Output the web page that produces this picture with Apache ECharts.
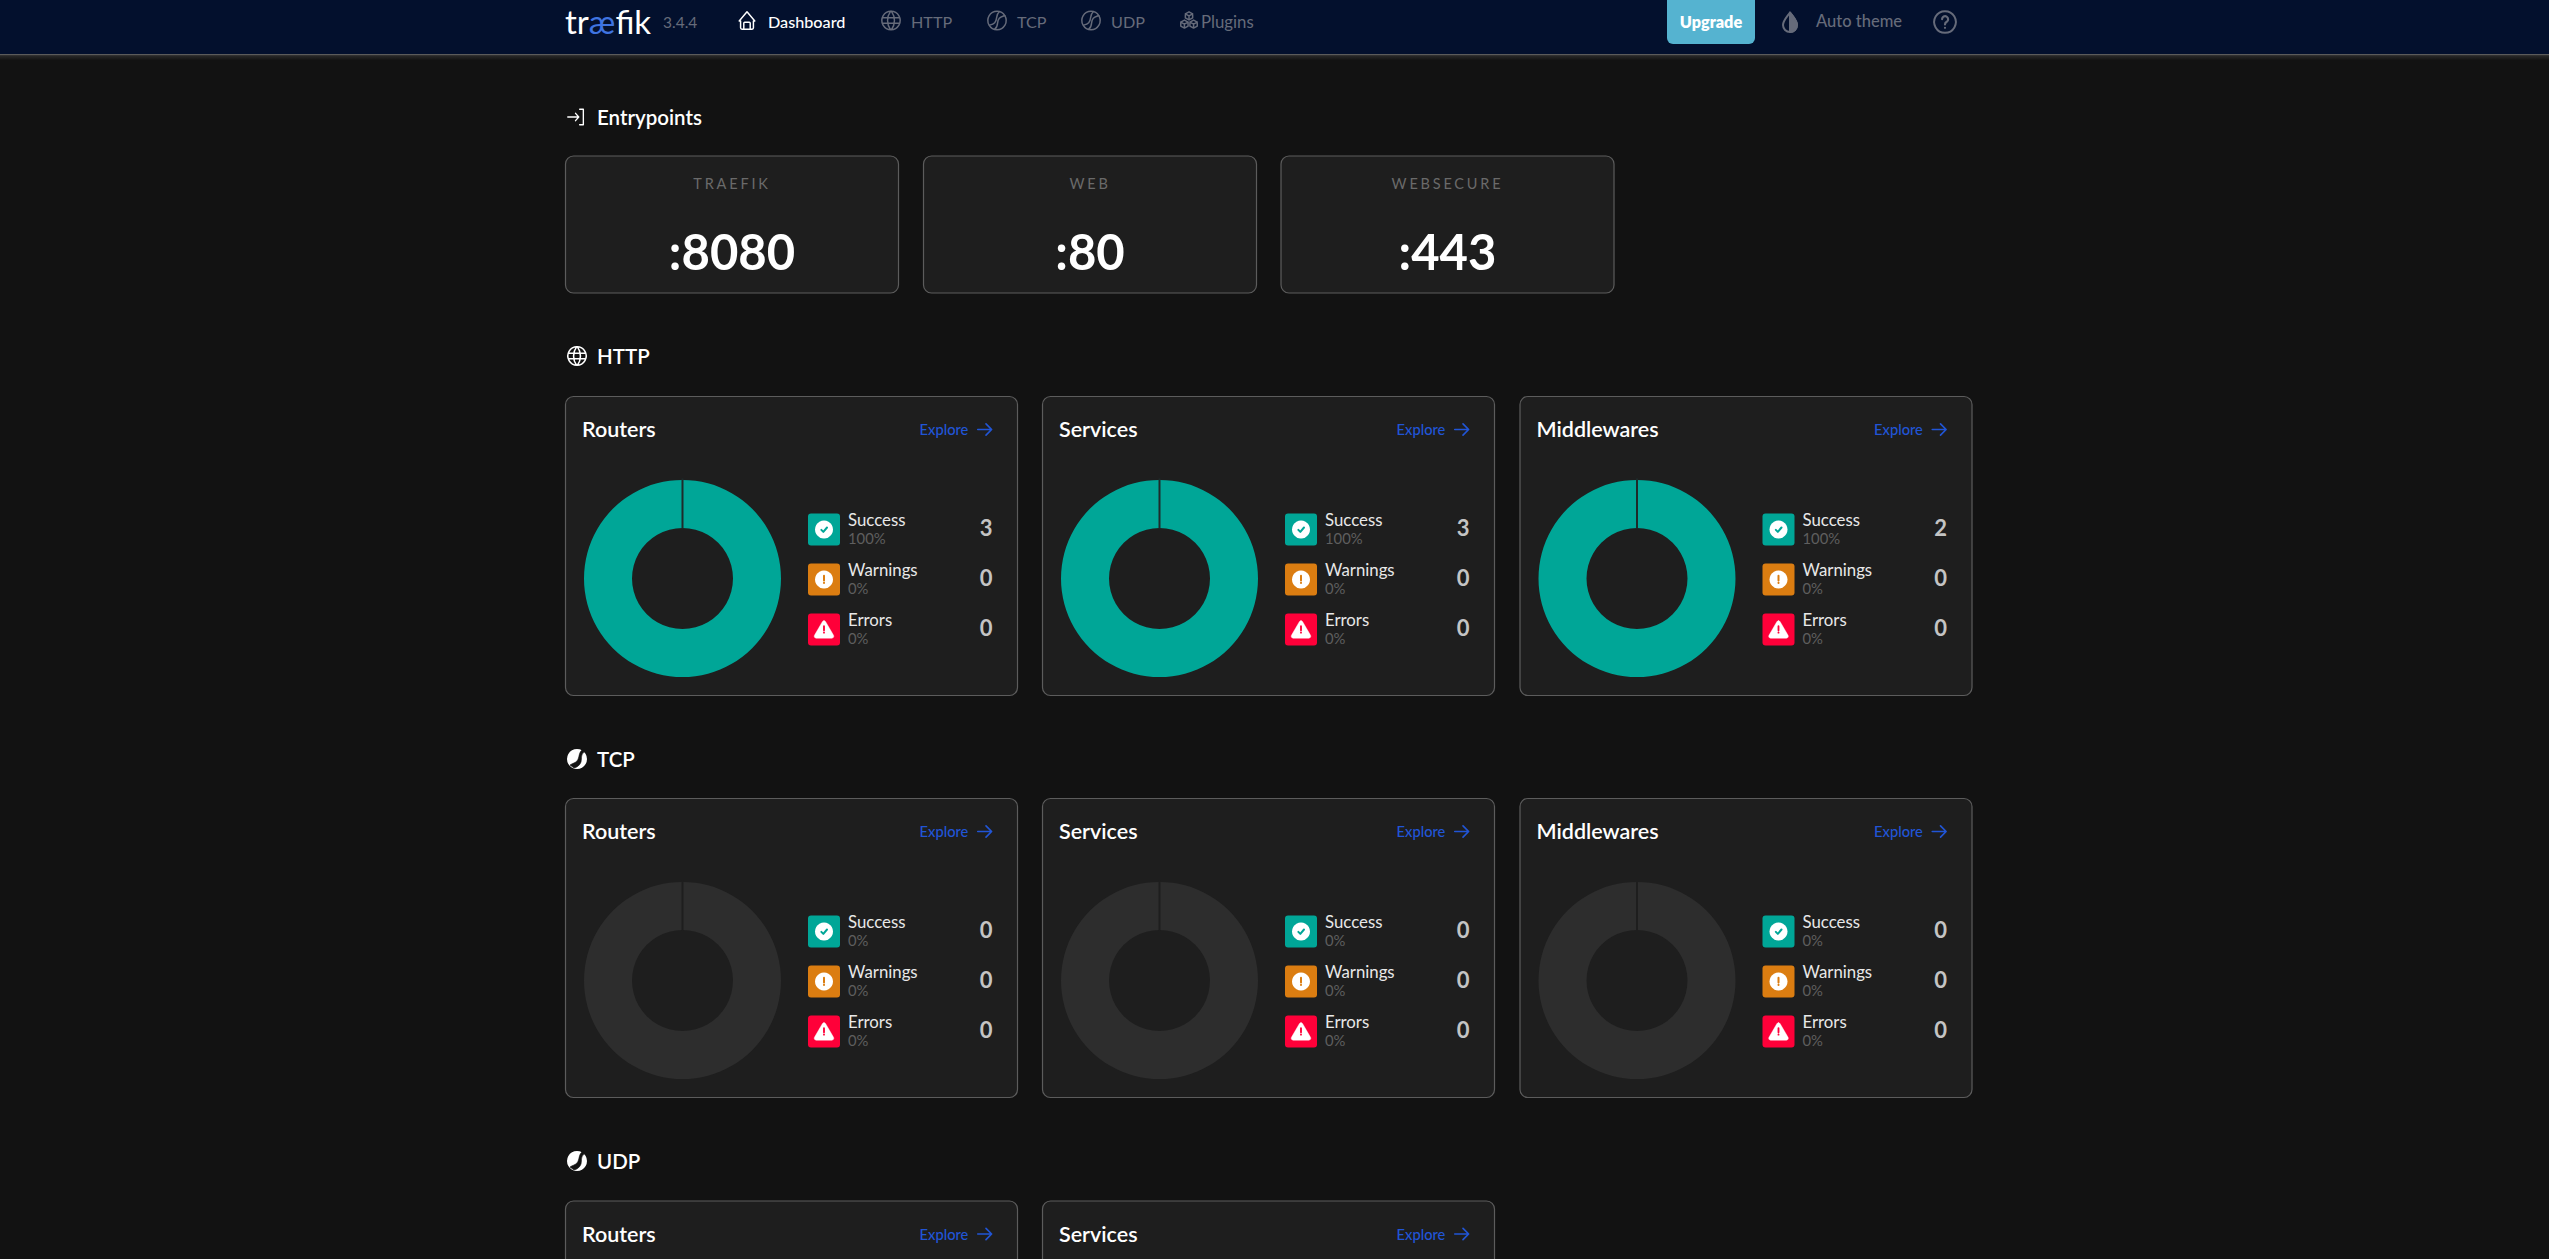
<!DOCTYPE html>
<html><head><meta charset="utf-8">
<style>html,body{margin:0;padding:0;background:#121212;overflow:hidden}#c{width:2549px;height:1259px}</style>
<script src="https://cdn.jsdelivr.net/npm/echarts@6/dist/echarts.min.js"></script>
</head><body><div id="c"></div>
<script>
// ---- data ----
const navItems = ['Dashboard','HTTP','TCP','UDP','Plugins'];
const versionLabel = '3.4.4';
const entrypointNames = ['TRAEFIK','WEB','WEBSECURE'];
const entrypointPorts = [':8080',':80',':443'];
const statusNames = ['Success','Warnings','Errors'];
const cardNames = ['Routers','Services','Middlewares'];
const httpRouters = [3,0,0];
const httpServices = [3,0,0];
const httpMiddlewares = [2,0,0];
const tcpRouters = [0,0,0];
const tcpServices = [0,0,0];
const tcpMiddlewares = [0,0,0];

// ---- style / layout ----
const F = 'Lato, "Noto Sans", sans-serif';
const C = {bg:'#121212',card:'#1e1e1e',border:'#5c5c5c',nav:'#03102d',muted:'#666b7a',teal:'#00a697',orange:'#db7d11',red:'#ff0039',blue:'#2155d6',empty:'#2d2d2d'};
const statusColors = [C.teal,C.orange,C.red];
const colX = [565.5,1042.5,1520];
const g = [], series = [];
const spaced = [];
const shapeNames = new Map();

function shapeFor(path){
  if(!shapeNames.has(path)){
    const n='iconShape'+shapeNames.size;
    echarts.graphic.registerShape(n,echarts.graphic.extendPath(path,{}));
    shapeNames.set(path,n);
  }
  return shapeNames.get(path);
}
function text(t,x,y,size,weight,fill,align){
  g.push({type:'text',z:5,silent:true,style:{text:t,x,y,fill,font:`${weight} ${size}px ${F}`,textAlign:align||'left',textVerticalAlign:'middle'}});
}
function rrect(x,y,w,h,r,fill,stroke){
  g.push({type:'rect',z:1,silent:true,shape:{x,y,width:w,height:h,r},style:{fill,stroke:stroke||null,lineWidth:stroke?1.2:0}});
}
function icon(path,x,y,size,o){
  const s=size/24;
  g.push({type:shapeFor(path),z:6,silent:true,x,y,scaleX:s,scaleY:s,
    style:Object.assign({fill:'none',stroke:'#fff',lineWidth:1.6,lineCap:'round',lineJoin:'round'},o||{})});
}
function disc(cx,cy,r,fill,stroke,lw){
  g.push({type:'circle',z:6,silent:true,shape:{cx,cy,r},style:{fill:fill||'none',stroke:stroke||null,lineWidth:lw||0}});
}

const P = {
  home:'M5 12.5H3.500L12 2.500l8.500 10H19M5 12.500v7.500a1.500 1.500 0 0 0 1.500 1.500h11a1.500 1.500 0 0 0 1.500-1.500v-7.500M8.500 21.500v-6.500a1 1 0 0 1 1-1h5a1 1 0 0 1 1 1v6.500',
  globe:'M12 2a10 10 0 1 0 0.01 0ZM2.6 9h18.8M2.6 15h18.8M11.5 2a17 17 0 0 0 0 20M12.5 2a17 17 0 0 1 0 20',
  ring:'M12 2a10 10 0 1 0 0.01 0Z',
  swirl:'M14.500 2.500C10 6 13 11 9.500 14.500C8 16 6 16.500 4 17M20.500 6.500C18 7.500 16 8 14.500 9.500C11 13 14.500 18 9.500 21.500',
  cubes:'M12 2.5l4 2.2v4.4l-4 2.2-4-2.2V4.700ZM7 11.500l4 2.200v4.400l-4 2.200-4-2.200v-4.400ZM17 11.500l4 2.200v4.400l-4 2.200-4-2.200v-4.400ZM8 4.700l4 2.200 4-2.200M12 6.900v4.600M3 13.700l4 2.200 4-2.200M7 15.900v4.400M13 13.700l4 2.200 4-2.200M17 15.900v4.400',
  enter:'M3 12h12M11.500 8l3.500 4-3.500 4M16 3.500h4v17h-4',
  arrow:'M3 12h18M14 4.500l7.500 7.500-7.500 7.500',
  drop:'M12 2.500C8 8 5 11 5 15a7 7 0 0 0 14 0C19 11 16 8 12 2.500Z',
  dropFill:'M12 2.500C16 8 19 11 19 15a7 7 0 0 1-7 7Z',
  qm:'M9.300 9.300a2.800 2.800 0 1 1 4.300 2.500c-1 .6-1.600 1.300-1.600 2.500M12 17.300v.1',
  check:'M8 12.500l3 3 5.500-6.500',
  bang:'M12 6.500v7M12 17v.4',
  tri:'M12 2.500c.8 0 1.500.5 1.900 1.200l9 15.500c.8 1.500-.2 3.300-1.900 3.300H3c-1.700 0-2.700-1.800-1.900-3.300l9-15.500c.4-.7 1.100-1.200 1.900-1.200Z',
  blade:'M17.500 2.500C13 6 15 10 12 14C10 16 7 16.500 5 18L9 21C12 20.500 15 18 16 15C17 11 15.500 7 19.500 5Z',
};

// ---- nav ----
rrect(0,0,2549,54,0,C.nav);
g.push({type:'rect',z:2,silent:true,shape:{x:0,y:54,width:2549,height:1.4},style:{fill:'#5b5b5b'}});
g.push({type:'rect',z:2,silent:true,shape:{x:0,y:55.400,width:2549,height:5},style:{fill:{type:'linear',x:0,y:0,x2:0,y2:1,colorStops:[{offset:0,color:'#2a2a2a'},{offset:1,color:C.bg}]}}});
g.push({type:'text',z:5,silent:true,style:{x:565,y:21,textVerticalAlign:'middle',text:'{a|tr}{b|æ}{a|fik}',
  rich:{a:{fill:'#fff',font:`400 33px ${F}`},b:{fill:'#3f74e0',font:`400 33px ${F}`}}}});
text(versionLabel,663,21.500,15.500,400,C.muted);
const nav = [[P.home,736,768],[P.globe,880,911],[P.ring,986,1017],[P.ring,1080,1111],[P.cubes,1178,1201]];
nav.forEach((n,i)=>{
  const col = i===0?'#fff':C.muted;
  icon(n[0],n[1],9.500,22,{stroke:col});
  if(n[0]===P.ring) icon(P.swirl,n[1],9.500,22,{stroke:col});
  text(navItems[i],n[2],21,i===4?16.800:16.200,i===0?500:400,col);
});
rrect(1667,-6,88,50,6,'#55b3d0');
text('Upgrade',1711,21,16.200,800,'#fff','center');
icon(P.drop,1778,10,24,{stroke:C.muted,lineWidth:2});
icon(P.dropFill,1778,10,24,{stroke:C.muted,fill:C.muted,lineWidth:2});
text('Auto theme',1816,21,16.500,500,C.muted);
icon(P.ring,1932,9,26,{stroke:C.muted,lineWidth:1.800});
icon(P.qm,1932,9,26,{stroke:C.muted,lineWidth:2});

// ---- section headings ----
function heading(t,y,kind){
  if(kind==='enter') icon(P.enter,565,y-11,22,{lineWidth:1.500});
  if(kind==='globe') icon(P.globe,566,y-11,22,{lineWidth:1.700});
  if(kind==='swirl'){
    disc(577,y,10,'#fff');
    icon(P.blade,565,y-12,24,{fill:C.bg,stroke:C.bg,lineWidth:.6});
  }
  text(t,597,y,20.500,600,'#fff');
}
heading('Entrypoints',117,'enter');
heading('HTTP',356,'globe');
heading('TCP',759,'swirl');
heading('UDP',1161,'swirl');

// ---- entrypoints ----
entrypointNames.forEach((n,i)=>{
  const x=[565.500,923.500,1281][i], w=333;
  rrect(x,156,w,137,8,C.card,C.border);
  text(n,x+w/2,183.800,14.500,400,'#6a6a6a','center');
  spaced.push(n);
  text(entrypointPorts[i],x+w/2,250.500,49,700,'#fff','center');
});

// ---- cards ----
function cardHead(name,x,y){
  rrect(x,y,452,299,8,C.card,C.border);
  text(name,x+16.500,y+32.500,21.500,600,'#fff');
  text('Explore',x+354,y+32.500,14.700,500,C.blue);
  icon(P.arrow,x+410,y+24,18,{stroke:C.blue,lineWidth:2.200});
}
function card(name,values,col,y){
  const x=colX[col];
  cardHead(name,x,y);
  const cy=y+182, cx=x+117;
  const total=values.reduce((a,b)=>a+b,0);
  series.push({type:'pie',silent:true,animation:false,z:3,center:[cx,cy],radius:[50.500,98.500],
    label:{show:false},labelLine:{show:false},showEmptyCircle:true,emptyCircleStyle:{color:C.empty},
    data:statusNames.map((s,i)=>({name:s,value:values[i],itemStyle:{color:statusColors[i]}})).filter(d=>d.value>0)});
  g.push({type:'rect',z:10,silent:true,shape:{x:cx-1,y:cy-100,width:2,height:50},style:{fill:total?'#1e2b2a':'#1e1e1e'}});
  statusNames.forEach((s,i)=>{
    const ry=y+117+i*50, icx=x+258.500, icy=ry+16;
    rrect(x+242.500,ry,32,32,3,statusColors[i]);
    if(i===0){disc(icx,icy,9,'#fff'); icon(P.check,icx-8,icy-8,16,{stroke:C.teal,lineWidth:3});}
    if(i===1){disc(icx,icy,9,'#fff'); icon(P.bang,icx-8,icy-8,16,{stroke:C.orange,lineWidth:3});}
    if(i===2){icon(P.tri,icx-10.500,icy-11,21,{fill:'#fff',stroke:'#fff',lineWidth:.5}); icon(P.bang,icx-7,icy-7,14,{stroke:C.red,lineWidth:3.200});}
    text(s,x+282.500,ry+5.800,16.800,400,'#e8e8e8');
    text((total?Math.round(values[i]/total*100):0)+'%',x+282.500,ry+24.800,14.800,400,'#5f5f5f');
    text(String(values[i]),x+427,ry+14.300,22,700,'#c4c4c4','right');
  });
}
[httpRouters,httpServices,httpMiddlewares].forEach((v,i)=>card(cardNames[i],v,i,396.500));
[tcpRouters,tcpServices,tcpMiddlewares].forEach((v,i)=>card(cardNames[i],v,i,798.500));
cardHead(cardNames[0],colX[0],1201);
cardHead(cardNames[1],colX[1],1201);

const chart = echarts.init(document.getElementById('c'),null,{renderer:'svg',width:2549,height:1259});
chart.on('finished',()=>{
  document.querySelectorAll('#c text').forEach(t=>{
    if(spaced.includes(t.textContent)) t.style.letterSpacing='2.800px';
  });
});
chart.setOption({animation:false,backgroundColor:C.bg,tooltip:{show:false},legend:{show:false},series,graphic:{elements:g}});
</script></body></html>
